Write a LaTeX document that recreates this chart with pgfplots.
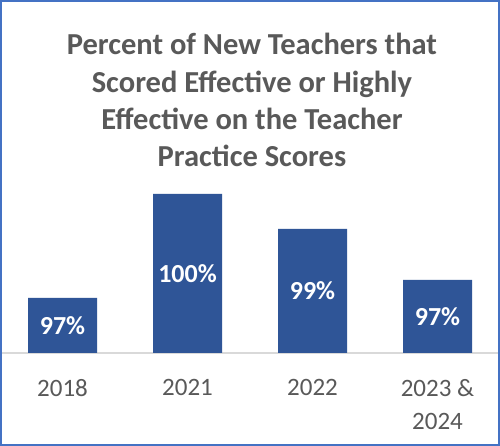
\documentclass[border=0pt]{standalone}
\usepackage{pgfplots}
\pgfplotsset{compat=1.18}
\usepackage{fontspec}
\setmainfont{Carlito}
\definecolor{barblue}{HTML}{2F5597}
\definecolor{txtgray}{HTML}{595959}
\definecolor{linegray}{HTML}{D9D9D9}
\definecolor{frameblue}{HTML}{4472C4}
\begin{document}
\begin{tikzpicture}[x=1pt,y=1pt]
\useasboundingbox (0,0) rectangle (500,446);
\fill[white] (0,0) rectangle (500,446);
\begin{axis}[
  at={(0pt,93pt)}, anchor=south west,
  scale only axis, width=500pt, height=171.72pt,
  xmin=-0.5, xmax=3.5, ymin=95, ymax=100.4,
  axis x line*=bottom, axis y line=none,
  axis line style={draw=linegray, line width=1.2pt},
  xtick={0,1,2,3}, xticklabels={2018,2021,2022,{2023 \&\\2024}},
  major tick length=0pt, ytick=\empty,
  xticklabel style={font=\fontsize{25}{33}\selectfont, text=txtgray, align=center, anchor=north, yshift=-23pt},
  ybar, bar width=69pt,
  nodes near coords, point meta=explicit symbolic,
  visualization depends on={rawy \as \rawy},
  nodes near coords style={anchor=center, text=white, font=\fontsize{26}{30}\selectfont\bfseries, yshift={-(\rawy-95)*15.9pt}},
]
\addplot[fill=barblue, draw=none] coordinates {(0,96.73) [97\%] (1,100) [100\%] (2,98.9) [99\%] (3,97.3) [97\%]};
\end{axis}
\begin{scope}[every node/.style={anchor=base, text=txtgray, font=\fontsize{30.5}{34}\selectfont\bfseries, inner sep=0pt}]
\node at (252,391) {Percent of New Teachers that};
\node at (252,353.7) {Scored Effective or Highly};
\node at (252,316.3) {Effective on the Teacher};
\node at (252,279) {Practice Scores};
\end{scope}
\draw[frameblue, line width=2pt] (1,1) rectangle (499,445);
\end{tikzpicture}
\end{document}
